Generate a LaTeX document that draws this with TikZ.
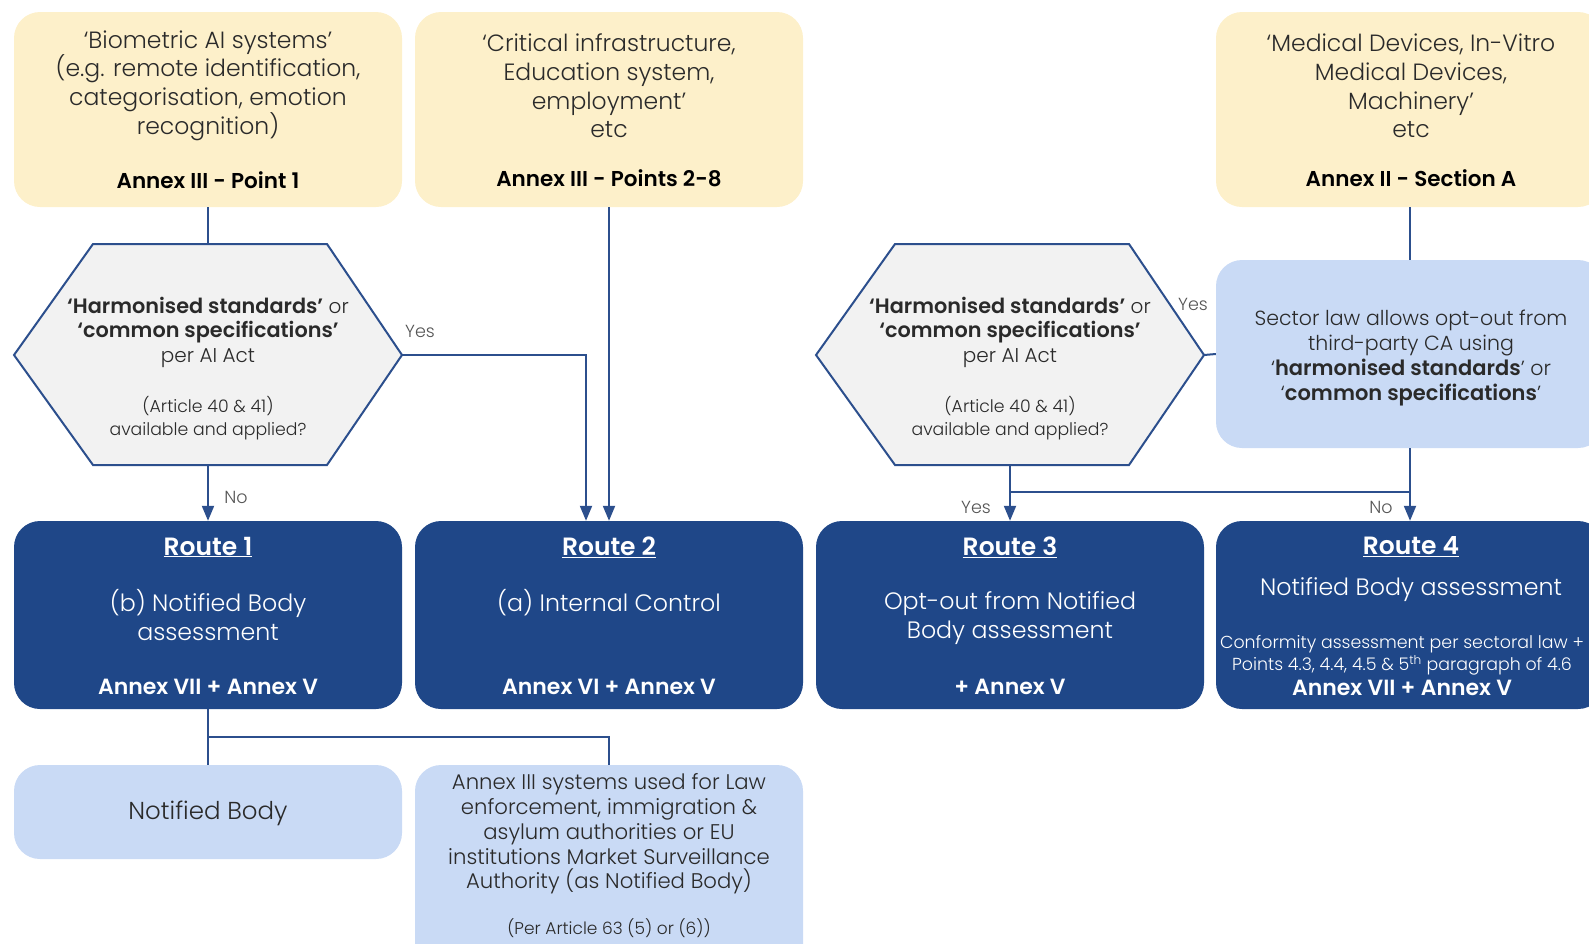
\documentclass[tikz,border=0pt]{standalone}
\usepackage{fontspec}
\setmainfont{Poppins Light}[BoldFont={Poppins SemiBold}]
\usetikzlibrary{arrows.meta}

\definecolor{yel}{HTML}{FDF0CA}
\definecolor{navy}{HTML}{1F4788}
\definecolor{pale}{HTML}{C9DAF5}
\definecolor{hexfill}{HTML}{F2F2F2}
\definecolor{wire}{HTML}{2C4F8D}
\definecolor{ink}{HTML}{2A2A2A}
\definecolor{lbl}{HTML}{555555}

% bold run set slightly larger than the light text around it
\newcommand{\hbold}[2]{{\bfseries\fontsize{#1}{24.5}\selectfont #2}}

\tikzset{
  card/.style={rounded corners=26pt, minimum width=388pt, inner sep=0pt},
  srcbox/.style={card, fill=yel, minimum height=195pt},
  routebox/.style={card, fill=navy, minimum height=188pt},
  palebox/.style={card, fill=pale},
  body/.style={font=\fontsize{23.5}{28.7}\selectfont, align=center, inner sep=0pt, text=ink},
  hexline/.style={font=\fontsize{20}{24.5}\selectfont, align=center, inner sep=0pt, text=ink},
  annex/.style={font=\bfseries\fontsize{21.5}{24}\selectfont, inner sep=0pt, text=black},
  rtitle/.style={font=\bfseries\fontsize{25}{28}\selectfont, inner sep=0pt, text=white},
  rbody/.style={font=\fontsize{23.7}{28.5}\selectfont, align=center, inner sep=0pt, text=white},
  rannex/.style={font=\bfseries\fontsize{22}{24}\selectfont, inner sep=0pt, text=white},
  yn/.style={font=\fontsize{17.5}{20}\selectfont, inner sep=0pt, text=lbl},
  link/.style={draw=wire, line width=2pt},
  arr/.style={link, -{Triangle[width=12pt,length=15pt]}},
  hexagon/.style={draw=wire, line width=2pt, fill=hexfill}
}

\begin{document}
\begin{tikzpicture}[x=1pt, y=-1pt]
\useasboundingbox (0,0) rectangle (1589,943);
\clip (0,0) rectangle (1589,943);

% ---------- source categories ----------
\node[srcbox] (src1) at (208,109.5) {};
\node[body] (src1t) at (208,85.5) {‘Biometric AI systems’\\(e.g. remote identification,\\categorisation, emotion\\recognition)};
\node[annex] (src1a) at (208,180) {Annex III - Point 1};

\node[srcbox] (src2) at (609,109.5) {};
\node[body] (src2t) at (609,86) {‘Critical infrastructure,\\Education system,\\employment’\\etc};
\node[annex] (src2a) at (609,178) {Annex III - Points 2-8};

\node[srcbox] (src3) at (1410,109.5) {};
\node[body] (src3t) at (1411,86) {‘Medical Devices, In-Vitro\\Medical Devices,\\Machinery’\\etc};
\node[annex] (src3a) at (1411,178) {Annex II - Section A};

% ---------- decision hexagons ----------
\coordinate (h1top) at (208,244);
\coordinate (h1bot) at (208,465);
\coordinate (h1right) at (402,355);
\draw[hexagon] (93,244) -- (327,244) -- (h1right) -- (327,465) -- (93,465) -- (14,355) -- cycle;
\node[hexline] (h1a) at (208,332) {\hbold{20.8}{‘Harmonised standards’} or\\\hbold{20.8}{‘common specifications’}\\per AI Act};
\node[hexline, font=\fontsize{17.3}{23}\selectfont] (h1b) at (208,418.5) {(Article 40 \& 41)\\available and applied?};

\coordinate (h2bot) at (1010,465);
\coordinate (h2right) at (1204,355);
\draw[hexagon] (895,244) -- (1129,244) -- (h2right) -- (1129,465) -- (895,465) -- (816,355) -- cycle;
\node[hexline] (h2a) at (1010,332) {\hbold{20.8}{‘Harmonised standards’} or\\\hbold{20.8}{‘common specifications’}\\per AI Act};
\node[hexline, font=\fontsize{17.3}{23}\selectfont] (h2b) at (1010,418.5) {(Article 40 \& 41)\\available and applied?};

% ---------- sector law opt-out ----------
\node[palebox, minimum height=188pt] (sector) at (1410,354) {};
\node[hexline, font=\fontsize{20.5}{24.7}\selectfont] (sectort) at (1411,358) {Sector law allows opt-out from\\third-party CA using\\‘\hbold{21}{harmonised standards}’ or\\‘\hbold{21}{common specifications}’};

% ---------- routes ----------
\node[routebox] (r1) at (208,615) {};
\node[rtitle] (r1t) at (208,547) {\underline{Route 1}};
\node[rbody] (r1b) at (208,615) {(b) Notified Body\\assessment};
\node[rannex] (r1a) at (208,687) {Annex VII + Annex V};

\node[routebox] (r2) at (609,615) {};
\node[rtitle] (r2t) at (609,547) {\underline{Route 2}};
\node[rbody] (r2b) at (609,603) {(a) Internal Control};
\node[rannex] (r2a) at (609,687) {Annex VI + Annex V};

\node[routebox] (r3) at (1010,615) {};
\node[rtitle] (r3t) at (1010,547) {\underline{Route 3}};
\node[rbody] (r3b) at (1010,618) {Opt-out from Notified\\Body assessment};
\node[rannex] (r3a) at (1010,687) {+ Annex V};

\node[routebox] (r4) at (1410,615) {};
\node[rtitle] (r4t) at (1411,547) {\underline{Route 4}};
\node[rbody] (r4b) at (1411,590) {Notified Body assessment};
\node[rbody, font=\fontsize{17.4}{22.5}\selectfont] (r4s) at (1402,655) {Conformity assessment per sectoral law +\\Points 4.3, 4.4, 4.5 \& 5\textsuperscript{th} paragraph of 4.6};
\node[rannex] (r4a) at (1402,688) {Annex VII + Annex V};

% ---------- assessing bodies ----------
\node[palebox, minimum height=94pt] (nb) at (208,812) {};
\node[body, font=\fontsize{24.5}{28}\selectfont] (nbt) at (208,813) {Notified Body};

\node[palebox, minimum height=210pt] (msa) at (609,870) {};
\node[body, font=\fontsize{21.2}{24.75}\selectfont] (msat) at (609,834) {Annex III systems used for Law\\enforcement, immigration \&\\asylum authorities or EU\\institutions Market Surveillance\\Authority (as Notified Body)};
\node[body, font=\fontsize{17}{20}\selectfont] (msan) at (609,928) {(Per Article 63 (5) or (6))};

% ---------- connectors ----------
\draw[link] (src1.south) -- (h1top);
\draw[arr] (h1bot) -- (r1.north);
\node[yn] (no1) at (236,497) {No};

\coordinate (yes1turn) at (586,355);
\draw[arr] (h1right) -- (yes1turn) -- (yes1turn |- r2.north);
\node[yn] (yes1) at (420,331) {Yes};
\draw[arr] (src2.south) -- (r2.north);

\draw[link] (src3.south) -- (sector.north);
\draw[link] (h2right) -- (sector.west);
\node[yn] (yes2) at (1193,304) {Yes};

\coordinate (join) at (1010,492);
\draw[arr] (h2bot) -- (r3.north);
\draw[arr] (sector.south) -- (r4.north);
\draw[link] (join) -- (join -| sector.south);
\node[yn] (yes3) at (976,507) {Yes};
\node[yn] (no2) at (1381,507) {No};

\coordinate (fork) at (208,737);
\draw[link] (r1.south) -- (nb.north);
\draw[link] (fork) -- (fork -| msa.north) -- (msa.north);
\end{tikzpicture}
\end{document}
